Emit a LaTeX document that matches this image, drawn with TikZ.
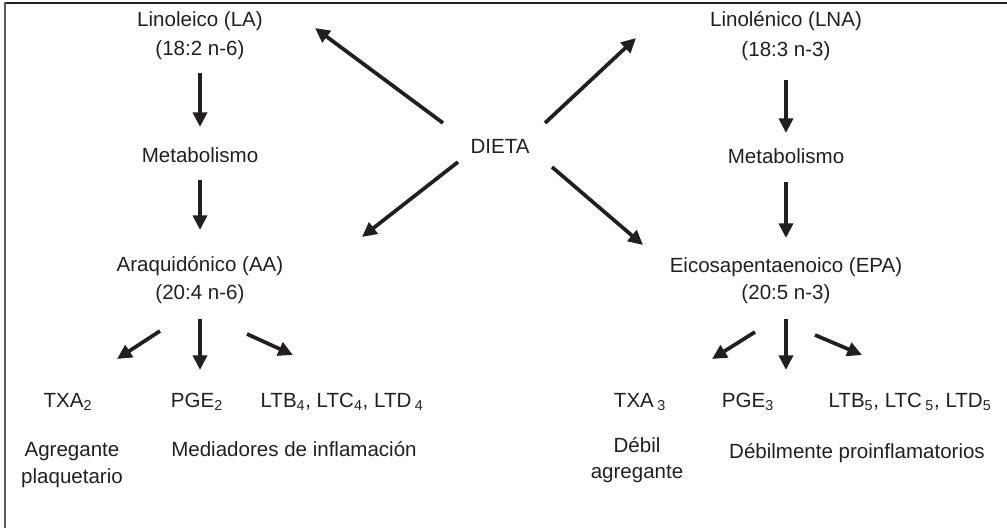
\documentclass[tikz,border=0pt]{standalone}
\usepackage{fontspec}
\setmainfont{Liberation Sans}
\usetikzlibrary{arrows.meta}
\definecolor{ink}{HTML}{231F20}
\definecolor{frame}{HTML}{5A5A5A}
\begin{document}
\begin{tikzpicture}[x=0.75pt,y=-0.75pt,
  lbl/.style={inner sep=0pt, anchor=base, text=ink, font=\fontsize{15.4}{18}\selectfont},
  flow/.style={draw=ink, line width=2.8pt,
    -{Triangle[length=11pt,width=10.5pt]}}]
\useasboundingbox (0,0) rectangle (1007,528);
% frame: top rule and left rule
\draw[ink, line width=1.6pt] (4,3) -- (1007,3);
\draw[frame, line width=1.5pt] (4.5,2) -- (4.5,528);

% central source
\node[lbl] (dieta) at (500,153) {DIETA};

% omega-6 branch
\node[lbl] (la1) at (200,27) {Linoleico (LA)};
\node[lbl] (la2) at (200,56) {(18:2 n-6)};
\node[lbl] (met1) at (200,162) {Metabolismo};
\node[lbl] (aa1) at (200,271) {Araquidónico (AA)};
\node[lbl] (aa2) at (200,299) {(20:4 n-6)};
\node[lbl] (txa2) at (68,407) {TXA\textsubscript{2}};
\node[lbl] (pge2) at (197,407) {PGE\textsubscript{2}};
\node[lbl] (lt4) at (342,407) {LTB\textsubscript{4}, LTC\textsubscript{4}, LTD\,\textsubscript{4}};
\node[lbl] (agr1) at (72,456) {Agregante};
\node[lbl] (agr2) at (72,483) {plaquetario};
\node[lbl] (med) at (294,456) {Mediadores de inflamación};

% omega-3 branch
\node[lbl] (lna1) at (786,27) {Linolénico (LNA)};
\node[lbl] (lna2) at (786,57) {(18:3 n-3)};
\node[lbl] (met2) at (786,163) {Metabolismo};
\node[lbl] (epa1) at (786,272) {Eicosapentaenoico (EPA)};
\node[lbl] (epa2) at (786,299) {(20:5 n-3)};
\node[lbl] (txa3) at (640,407) {TXA\,\textsubscript{3}};
\node[lbl] (pge3) at (748,407) {PGE\textsubscript{3}};
\node[lbl] (lt5) at (910,407) {LTB\textsubscript{5}, LTC\,\textsubscript{5}, LTD\textsubscript{5}};
\node[lbl] (deb1) at (637,452) {Débil};
\node[lbl] (deb2) at (637,478) {agregante};
\node[lbl] (debp) at (857,458) {Débilmente proinflamatorios};

% arrow end points
\coordinate (d-ul) at (443,123);  \coordinate (t-ul) at (315,28);
\coordinate (d-ur) at (545,123);  \coordinate (t-ur) at (636,38);
\coordinate (d-ll) at (458,162);  \coordinate (t-ll) at (362,237);
\coordinate (d-lr) at (552,167);  \coordinate (t-lr) at (643,245);

\coordinate (la-s) at (200,73);   \coordinate (met1-n) at (200,127);
\coordinate (met1-s) at (200,180); \coordinate (aa-n) at (200,230);
\coordinate (lna-s) at (786,80);  \coordinate (met2-n) at (786,133);
\coordinate (met2-s) at (786,182); \coordinate (epa-n) at (786,238);

\coordinate (aa-l) at (160,331);  \coordinate (txa2-n) at (117,359);
\coordinate (aa-c) at (200,319);  \coordinate (pge2-n) at (200,370);
\coordinate (aa-r) at (247,334);  \coordinate (lt4-n) at (293,355);
\coordinate (epa-l) at (755,332); \coordinate (txa3-n) at (712,359);
\coordinate (epa-c) at (786,319); \coordinate (pge3-n) at (786,370);
\coordinate (epa-r) at (815,335); \coordinate (lt5-n) at (862,355);

% diet feeds both precursors and both long-chain acids
\draw[flow] (d-ul) -- (t-ul);
\draw[flow] (d-ur) -- (t-ur);
\draw[flow] (d-ll) -- (t-ll);
\draw[flow] (d-lr) -- (t-lr);

% metabolic chains
\draw[flow] (la-s) -- (met1-n);
\draw[flow] (met1-s) -- (aa-n);
\draw[flow] (lna-s) -- (met2-n);
\draw[flow] (met2-s) -- (epa-n);

% eicosanoid products
\draw[flow] (aa-l) -- (txa2-n);
\draw[flow] (aa-c) -- (pge2-n);
\draw[flow] (aa-r) -- (lt4-n);
\draw[flow] (epa-l) -- (txa3-n);
\draw[flow] (epa-c) -- (pge3-n);
\draw[flow] (epa-r) -- (lt5-n);
\end{tikzpicture}
\end{document}
